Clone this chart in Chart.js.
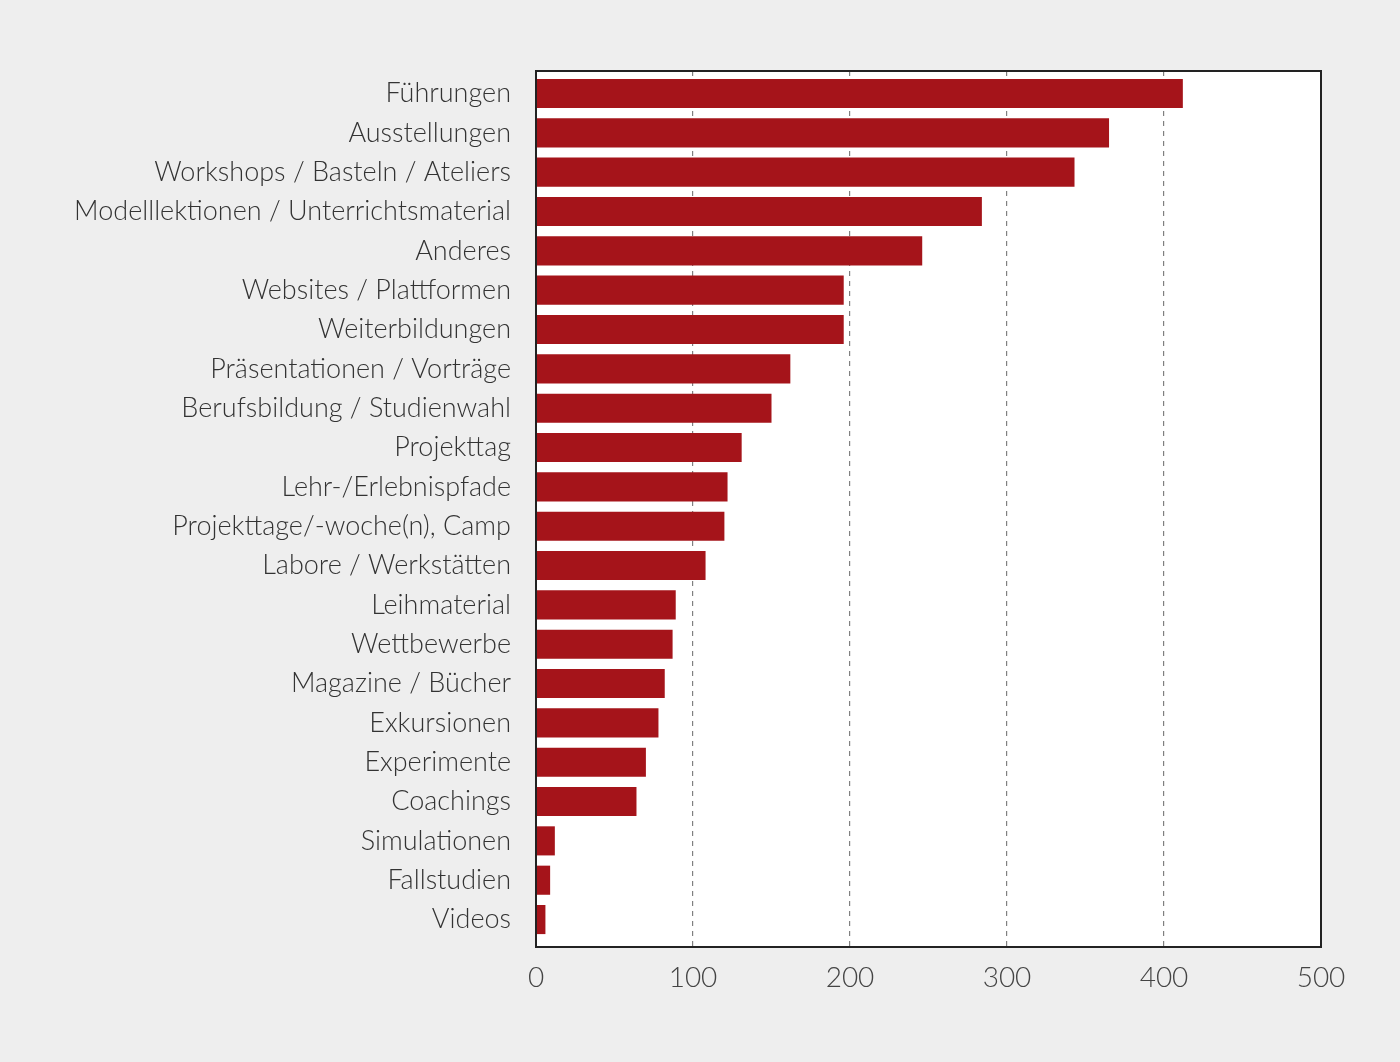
<!DOCTYPE html>
<html>
<head>
<meta charset="utf-8">
<script src="https://cdn.jsdelivr.net/npm/chart.js@4.4.1/dist/chart.umd.min.js"></script>
<style>
  html, body { margin: 0; padding: 0; background: #eeeeee; }
  #wrap { width: 1400px; height: 1062px; }
</style>
</head>
<body>
<div id="wrap"><canvas id="barCanvas" width="1400" height="1062"></canvas></div>
<script>
// Kategorien und Werte
const categories = [
  "Führungen", "Ausstellungen", "Workshops / Basteln / Ateliers",
  "Modelllektionen / Unterrichtsmaterial", "Anderes", "Websites / Plattformen",
  "Weiterbildungen", "Präsentationen / Vorträge", "Berufsbildung / Studienwahl",
  "Projekttag", "Lehr-/Erlebnispfade", "Projekttage/-woche(n), Camp",
  "Labore / Werkstätten", "Leihmaterial", "Wettbewerbe", "Magazine / Bücher",
  "Exkursionen", "Experimente", "Coachings", "Simulationen", "Fallstudien", "Videos"
];
const counts = [412, 365, 343, 284, 246, 196, 196, 162, 150, 131, 122, 120, 108, 89, 87, 82, 78, 70, 64, 12, 9, 6];
const xTicks = [0, 100, 200, 300, 400, 500];

// Rahmen rund um die Plotfläche
const frame = {
  id: "frame",
  afterDraw(chart) {
    const a = chart.chartArea, ctx = chart.ctx;
    ctx.save();
    ctx.strokeStyle = "#222";
    ctx.lineWidth = 2;
    ctx.strokeRect(a.left, a.top, a.right - a.left, a.bottom - a.top);
    ctx.restore();
  }
};
const plotBg = {
  id: "plotBg",
  beforeDraw(chart) {
    const a = chart.chartArea, ctx = chart.ctx;
    ctx.save();
    ctx.fillStyle = "#ffffff";
    ctx.fillRect(a.left, a.top, a.right - a.left, a.bottom - a.top);
    ctx.restore();
  }
};

const ctx = document.getElementById("barCanvas").getContext("2d");
new Chart(ctx, {
  type: "bar",
  data: {
    labels: categories,
    datasets: [{
      data: counts,
      backgroundColor: "#a5141a",
      borderWidth: 0,
      categoryPercentage: 1,
      barPercentage: 0.74
    }]
  },
  options: {
    indexAxis: "y",
    responsive: false,
    animation: false,
    layout: { padding: { left: 0, top: 71, right: 79, bottom: 0 } },
    plugins: { legend: { display: false }, tooltip: { enabled: false } },
    scales: {
      x: {
        min: 0, max: 500,
        afterBuildTicks: s => { s.ticks = xTicks.map(v => ({ value: v })); },
        afterFit: s => { s.height = 115; },
        grid: {
          drawTicks: false,
          color: c => (c.tick && (c.tick.value === 0 || c.tick.value === 500)) ? "rgba(0,0,0,0)" : "#808080",
          lineWidth: 1.2
        },
        border: { display: false, dash: [5, 5] },
        ticks: {
          padding: 14,
          color: "#444",
          font: { family: "Lato", size: 28, weight: "300" }
        }
      },
      y: {
        // etwas mehr Luft unten als oben, wie im Original
        afterBuildTicks: s => { s._startValue = -0.572; s._valueRange = 22.27; },
        afterFit: s => { s.width = 536; },
        border: { display: false },
        grid: { display: false, drawTicks: false },
        ticks: {
          padding: 25,
          color: "#333",
          font: { family: "Lato", size: 27, weight: "300" }
        }
      }
    }
  },
  plugins: [plotBg, frame]
});
</script>
</body>
</html>
